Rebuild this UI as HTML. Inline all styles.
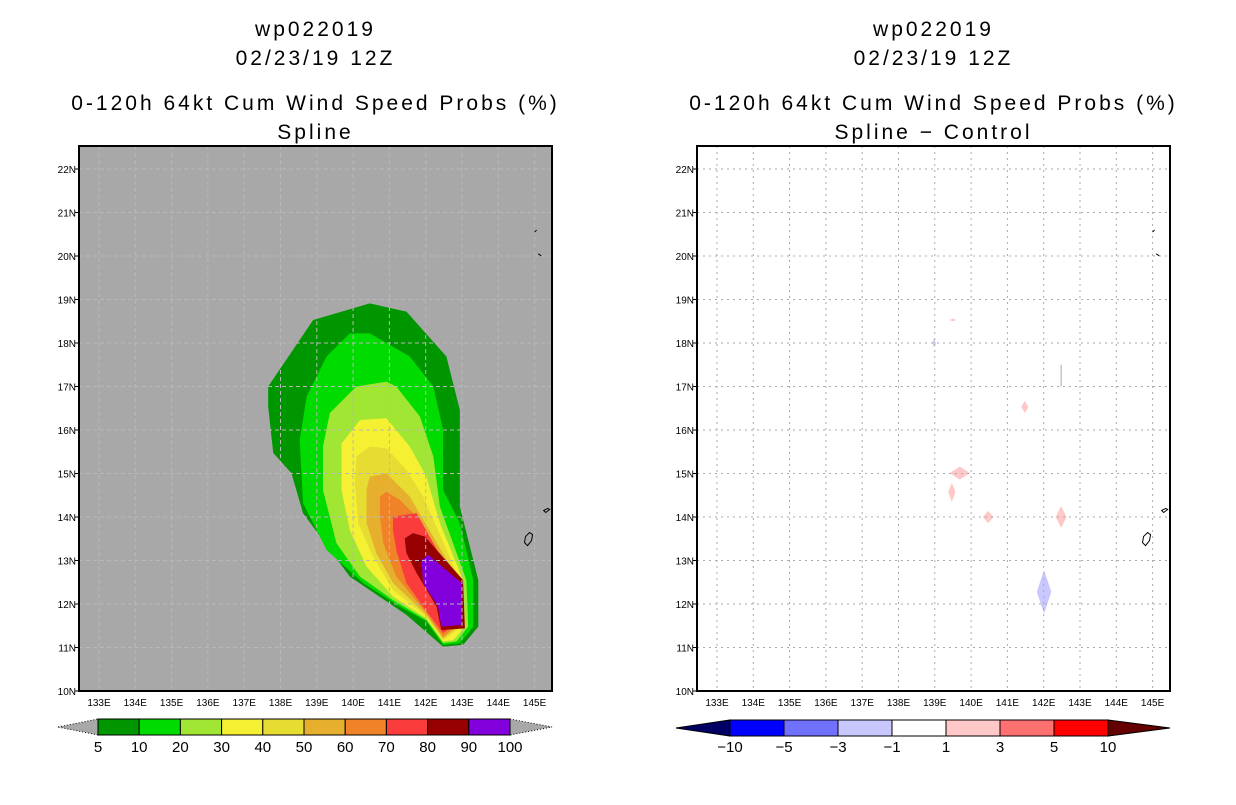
<!DOCTYPE html>
<html><head><meta charset="utf-8"><style>
body{margin:0;background:#fff;}
svg text{font-family:"Liberation Sans",sans-serif;}
</style></head><body>
<svg id="c" width="1236" height="800" xmlns="http://www.w3.org/2000/svg"></svg>
<script>
const latTicks=[10,11,12,13,14,15,16,17,18,19,20,21,22];
const lonTicks=[133,134,135,136,137,138,139,140,141,142,143,144,145];
const probLevels=[5,10,20,30,40,50,60,70,80,90,100];
const probColors=['#009600','#00dc00','#a0e632','#f5f032','#e6dc32','#e6af2d','#f08228','#fa3c3c','#960000','#8200dc'];
const diffLevels=[-10,-5,-3,-1,1,3,5,10];
const diffColors=['#0000ff','#7070ff','#c8c8ff','#ffffff','#ffc8c8','#ff7070','#ff0000'];
const contour5=[[137.66,17.0],[138.9,18.53],[140.46,18.91],[141.47,18.72],[142.57,17.69],[142.94,16.46],[142.94,14.24],[143.45,12.55],[143.45,11.48],[143.03,11.06],[142.48,11.02],[141.47,11.75],[139.91,12.63],[138.62,14.09],[138.3,15.01],[137.8,15.47],[137.66,16.54]];
const contour10=[[139.27,17.69],[139.91,18.22],[140.46,18.22],[141.56,17.69],[142.21,17.0],[142.48,16.0],[142.48,14.62],[142.94,13.86],[143.31,12.55],[143.31,11.48],[142.94,11.1],[142.48,11.06],[142.02,11.6],[141.29,11.94],[140.28,12.48],[139.27,13.24],[138.62,14.32],[138.53,15.77],[138.72,16.77]];
const contour20=[[139.17,15.62],[139.36,16.39],[140.09,17.0],[140.92,17.11],[141.19,17.0],[141.84,16.31],[142.21,15.39],[142.39,14.24],[143.12,12.55],[143.17,11.48],[142.85,11.14],[142.48,11.1],[142.02,11.63],[141.1,12.09],[140.19,12.63],[139.54,13.4],[139.17,14.62]];
const contour30=[[139.68,15.69],[140.19,16.23],[140.92,16.27],[141.56,15.62],[142.02,14.93],[142.39,13.86],[143.03,12.55],[143.08,11.48],[142.76,11.17],[142.48,11.14],[142.02,11.67],[141.1,12.17],[140.37,12.86],[139.91,13.7],[139.68,14.62]];
const contour40=[[140.05,14.78],[140.09,15.39],[140.46,15.62],[140.92,15.58],[141.47,15.08],[141.93,14.47],[142.94,12.55],[142.99,11.48],[142.48,11.17],[142.02,11.71],[141.1,12.32],[140.55,13.09],[140.14,13.86]];
const contour50=[[140.37,14.62],[140.46,14.93],[140.92,15.0],[141.56,14.47],[142.85,12.63],[142.89,11.48],[142.48,11.21],[142.02,11.75],[141.1,12.48],[140.64,13.17],[140.37,13.86]];
const contour60=[[140.74,14.47],[140.92,14.58],[141.29,14.39],[141.84,13.93],[142.76,12.63],[142.8,11.48],[142.48,11.25],[142.02,11.79],[141.19,12.63],[140.83,13.4],[140.74,14.01]];
const contour70=[[141.1,14.01],[141.75,14.09],[142.66,12.71],[142.71,11.48],[142.48,11.33],[142.02,11.83],[141.47,12.48],[141.19,13.24],[141.1,13.7]];
const contour80=[[141.42,13.51],[141.65,13.63],[141.98,13.55],[143.03,12.55],[143.08,11.44],[142.43,11.4],[142.3,11.94],[141.75,12.71],[141.47,13.17]];
const contour90=[[141.88,13.01],[142.07,13.13],[142.99,12.48],[142.99,11.52],[142.43,11.48],[142.34,11.94],[141.93,12.48]];
const contours=[contour5,contour10,contour20,contour30,contour40,contour50,contour60,contour70,contour80,contour90];
const blobLon=[139.69,139.47,140.47,142.48,141.48,139.5,142.01,138.98];
const blobLat=[15.01,14.57,14.0,14.0,16.53,18.53,12.28,18.0];
const blobW=[0.28,0.1,0.15,0.15,0.1,0.1,0.2,0.05];
const blobH=[0.15,0.22,0.14,0.25,0.14,0.03,0.5,0.1];
const blobVal=[2,2,2,2,2,2,-2,-2];

const NS='http://www.w3.org/2000/svg';
const svg=document.getElementById('c');
function mk(t,a,p){const e=document.createElementNS(NS,t);for(const k in a)e.setAttribute(k,a[k]);(p||svg).appendChild(e);return e;}
const Y0=691,Y1=146;
function yS(lat){return 691-(lat-10)*43.5;}
function xS(lon,off){return off+(lon-133)*36.3;}
function panel(px0,off,title2,isLeft){
  const g=mk('g',{});
  
  
  const cx=(px0+px0+473)/2;
  [['wp022019',36],['02/23/19 12Z',65],['0-120h 64kt Cum Wind Speed Probs (%)',110],[title2,139]].forEach((t,i)=>{
    const tx=mk('text',{x:cx,y:t[1],'text-anchor':'middle','font-size':21,'letter-spacing':'3'},g);
    tx.textContent=t[0];
    
    
  });
  const bg=mk('rect',{x:px0,y:Y1,width:473,height:545,fill:isLeft?'#a8a8a8':'#fff'},g);
  
  
  const xs=l=>xS(l,off);
  if(isLeft){
    contours.forEach((c,i)=>{
      const p=mk('polygon',{points:c.map(q=>xs(q[0])+','+yS(q[1])).join(' '),fill:probColors[i]},g);
      
      
    });
  } else {
    blobLon.forEach((l,i)=>{
      const cxp=xs(l),cyp=yS(blobLat[i]),w=blobW[i]*36.3,h=blobH[i]*43.5;
      const col=blobVal[i]>0?'#ffc8c8':'#c8c8ff';
      const p=mk('polygon',{points:`${cxp-w},${cyp} ${cxp},${cyp-h} ${cxp+w},${cyp} ${cxp},${cyp+h}`,fill:col},g);
      
      
    });
  }
  const gc=isLeft?'#b8b8b8':'#aaa';
  const da=isLeft?'4,3':'2,4';
  lonTicks.forEach(l=>{
    const x=xs(l);
    const ln=mk('line',{x1:x,x2:x,y1:Y1,y2:Y0,stroke:gc,'stroke-width':1,'stroke-dasharray':da},g);
    
    
    const t=mk('text',{x:x,y:706,'text-anchor':'middle','font-size':10},g);
    t.textContent=l+'E';
    
    
  });
  latTicks.forEach(l=>{
    const y=yS(l);
    const ln=mk('line',{x1:px0,x2:px0+473,y1:y,y2:y,stroke:gc,'stroke-width':1,'stroke-dasharray':da},g);
    
    
    mk('line',{x1:px0-4,x2:px0,y1:y,y2:y,stroke:'#000'},g);
    const t=mk('text',{x:px0-3,y:y+4,'text-anchor':'end','font-size':10},g);
    t.textContent=l+'N';
    
    
  });
  const isl=mk('path',{d:`M${xs(144.75)},${yS(13.55)} l4,-4 l3,2 l-1,6 l-4,5 l-3,-3 z M${xs(145.25)},${yS(14.15)} l4,-2 l2,1 l-4,3 z M${xs(145.0)},${yS(20.55)} l2,-2 M${xs(145.1)},${yS(20.05)} l3,2`,fill:'none',stroke:'#000','stroke-width':1},g);
  
  
  if(!isLeft){mk('line',{x1:xs(142.48),x2:xs(142.48),y1:yS(17.5),y2:yS(17.0),stroke:'#aab','stroke-width':1},g);}
  const fr=mk('rect',{x:px0,y:Y1,width:473,height:545,fill:'none',stroke:'#000','stroke-width':2},g);
  
  
}
panel(79,99,'Spline',true);
panel(697,717,'Spline − Control',false);

(function(){
  const g=mk('g',{});
  const x0=98,w=41.2,y=719,h=16;
  mk('polygon',{points:`58,727 ${x0},${y} ${x0},${y+h}`,fill:'#a8a8a8',stroke:'#000','stroke-dasharray':'1,2'},g);
  mk('polygon',{points:`${x0+10*w},${y} 552,727 ${x0+10*w},${y+h}`,fill:'#a8a8a8',stroke:'#000','stroke-dasharray':'1,2'},g);
  probColors.forEach((c,i)=>{const r=mk('rect',{x:x0+i*w,y:y,width:w,height:h,fill:c,stroke:'#000'},g);});
  probLevels.forEach((v,i)=>{const t=mk('text',{x:x0+i*w,y:752,'text-anchor':'middle','font-size':15},g);t.textContent=v;});
})();
(function(){
  const g=mk('g',{});
  const x0=730,w=54,y=720,h=16;
  mk('polygon',{points:`676,728 ${x0},${y} ${x0},${y+h}`,fill:'#000064',stroke:'#000'},g);
  mk('polygon',{points:`${x0+7*w},${y} 1170,728 ${x0+7*w},${y+h}`,fill:'#640000',stroke:'#000'},g);
  diffColors.forEach((c,i)=>{const r=mk('rect',{x:x0+i*w,y:y,width:w,height:h,fill:c,stroke:'#000'},g);});
  diffLevels.forEach((v,i)=>{const t=mk('text',{x:x0+i*w,y:752,'text-anchor':'middle','font-size':15},g);t.textContent=v<0?'−'+(-v):v;});
})();
</script>
</body></html>
